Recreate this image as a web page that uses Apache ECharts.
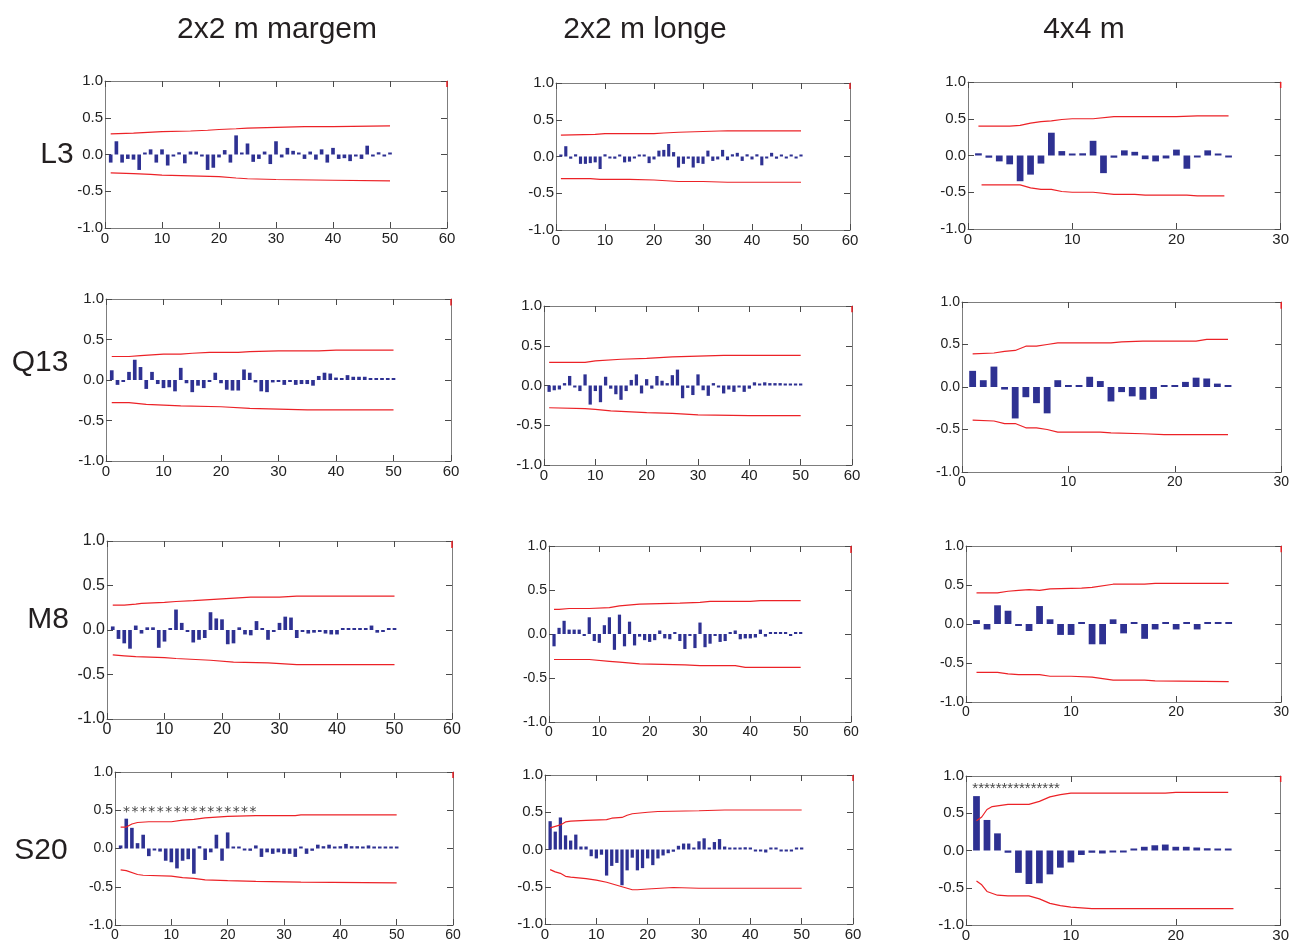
<!DOCTYPE html>
<html>
<head>
<meta charset="UTF-8">
<title>Correlogramas</title>
<script src="https://cdn.jsdelivr.net/npm/echarts@6/dist/echarts.min.js"></script>
<style>
html,body{margin:0;padding:0;background:#fff}
#chart{width:1292px;height:943px}
</style>
</head>
<body>
<div id="chart"></div>
<script>
// titulos
var colTitles = ['2x2 m margem', '2x2 m longe', '4x4 m'];
var rowTitles = ['L3', 'Q13', 'M8', 'S20'];
var starsMargem = '****************';
var stars4x4 = '***************';

// autocorrelacoes (lag 1..N)
var acfL3Margem = [-0.11,0.18,-0.11,-0.06,-0.07,-0.21,0.01,0.07,-0.11,0.07,
  -0.15,-0.01,0.03,-0.12,0.04,0.04,-0.01,-0.21,-0.18,-0.04,
  0.06,-0.11,0.26,0.02,0.15,-0.10,-0.06,0.04,-0.13,0.18,
  -0.04,0.09,0.05,0.02,-0.06,0.04,-0.07,0.07,-0.11,0.09,
  -0.06,-0.05,-0.09,-0.01,-0.06,0.12,-0.01,0.03,-0.01,0.00];
var acfL3Longe = [0.01,0.14,-0.03,0.03,-0.10,-0.10,-0.09,-0.08,-0.17,0.03,
  -0.01,-0.03,0.02,-0.08,-0.07,-0.01,0.02,0.01,-0.09,-0.04,
  0.08,0.09,0.17,0.06,-0.15,-0.10,-0.03,-0.15,-0.09,-0.10,
  0.08,-0.06,-0.04,0.09,-0.05,0.03,0.05,-0.06,0.03,-0.04,
  0.03,-0.12,-0.01,0.05,-0.03,0.01,-0.01,0.01,-0.01,0.00];
var acfL3Q4 = [0.03,-0.03,-0.08,-0.12,-0.35,-0.26,-0.11,0.31,0.06,0.02,
  0.03,0.20,-0.24,-0.03,0.07,0.05,-0.05,-0.08,-0.04,0.08,
  -0.18,-0.02,0.07,0.02,-0.01];
var acfQ13Margem = [0.12,-0.06,-0.02,0.10,0.25,0.16,-0.11,0.10,-0.05,-0.10,
  -0.09,-0.14,0.15,-0.04,-0.15,-0.07,-0.10,-0.02,0.09,-0.04,
  -0.12,-0.13,-0.13,0.13,0.09,-0.03,-0.14,-0.15,-0.03,-0.02,
  -0.06,-0.01,-0.06,-0.05,-0.05,-0.07,0.05,0.09,0.08,0.03,
  0.02,0.06,0.04,0.04,0.04,0.02,0.01,0.00,0.00,0.00];
var acfQ13Longe = [-0.08,-0.06,-0.05,0.03,0.12,-0.01,-0.07,0.14,-0.24,-0.07,
  -0.21,0.11,-0.04,-0.11,-0.18,-0.07,0.07,0.14,-0.10,0.08,
  -0.04,0.12,0.06,0.03,0.13,0.20,-0.16,-0.03,-0.12,0.14,
  -0.06,-0.13,0.03,-0.01,-0.10,-0.05,-0.08,-0.02,-0.08,-0.04,
  0.04,0.01,0.04,0.03,0.03,0.03,0.02,0.02,0.01,0.00];
var acfQ13Q4 = [0.19,0.08,0.24,-0.03,-0.37,-0.12,-0.19,-0.31,0.08,0.00,
  0.00,0.12,0.07,-0.17,-0.06,-0.11,-0.15,-0.14,0.00,0.00,
  0.06,0.11,0.10,0.04,0.00];
var acfM8Margem = [0.04,-0.10,-0.15,-0.21,0.05,-0.04,0.03,0.03,-0.20,-0.13,
  0.01,0.23,0.08,-0.01,-0.14,-0.11,-0.09,0.20,0.13,0.12,
  -0.16,-0.15,0.03,-0.05,-0.06,0.10,0.01,-0.11,-0.02,0.08,
  0.15,0.14,-0.09,-0.01,-0.04,-0.03,-0.02,-0.04,-0.05,-0.05,
  0.02,0.02,0.01,0.01,0.01,0.05,-0.03,-0.02,0.01,0.00];
var acfM8Longe = [-0.14,0.07,0.15,0.05,0.05,0.05,-0.02,0.19,-0.08,-0.10,
  0.10,0.19,-0.18,0.22,-0.14,0.14,-0.13,-0.03,-0.07,-0.09,
  -0.07,0.04,-0.05,-0.06,0.02,-0.08,-0.17,-0.02,-0.16,0.13,
  -0.15,-0.11,-0.01,-0.09,-0.08,0.02,0.04,-0.06,-0.05,-0.05,
  -0.04,0.05,-0.03,0.02,0.02,0.01,0.00,-0.02,0.00,0.00];
var acfM8Q4 = [0.05,-0.07,0.24,0.17,-0.02,-0.09,0.23,0.06,-0.14,-0.14,
  0.00,-0.26,-0.26,0.06,-0.12,0.00,-0.19,-0.07,0.00,-0.07,
  0.00,-0.07,0.00,0.00,0.00];
var acfS20Margem = [0.04,0.39,0.27,0.07,0.18,-0.10,-0.01,-0.04,-0.16,-0.18,
  -0.26,-0.16,-0.14,-0.33,0.03,-0.15,-0.05,0.18,-0.16,0.21,
  0.02,0.01,-0.01,-0.03,0.04,-0.11,-0.05,-0.07,-0.05,-0.07,
  -0.07,-0.11,0.02,-0.07,-0.03,0.05,0.03,0.05,0.01,0.03,
  0.06,0.03,0.03,0.02,0.04,0.01,0.00,0.00,0.00,0.00];
var acfS20Longe = [0.38,0.24,0.43,0.19,0.12,0.20,0.04,0.04,-0.09,-0.12,
  -0.07,-0.35,-0.22,-0.18,-0.48,-0.28,-0.11,-0.28,-0.25,-0.12,
  -0.21,-0.12,-0.08,-0.05,-0.03,0.05,0.08,0.08,0.01,0.11,
  0.15,0.01,0.10,0.14,0.04,0.01,0.01,0.00,0.03,0.01,
  -0.02,-0.02,-0.04,0.01,0.02,-0.02,-0.01,-0.01,0.00,0.00];
var acfS20Q4 = [0.73,0.41,0.23,-0.03,-0.30,-0.45,-0.44,-0.32,-0.23,-0.16,
  -0.06,-0.03,-0.04,-0.01,-0.02,0.00,0.05,0.07,0.08,0.05,
  0.05,0.04,0.03,0.01,0.00];

// limites de confianca [lag, valor]
var upL3Margem = [[1,0.28],[5,0.29],[10,0.31],[15,0.32],[18,0.33],[20,0.34],[23,0.35],[25,0.36],[30,0.37],[35,0.38],[40,0.38],[50,0.39]];
var loL3Margem = [[1,-0.25],[5,-0.26],[8,-0.27],[10,-0.28],[15,-0.29],[20,-0.30],[23,-0.32],[25,-0.33],[30,-0.34],[40,-0.35],[50,-0.36]];
var upL3Longe = [[1,0.29],[8,0.30],[10,0.31],[20,0.31],[22,0.32],[25,0.33],[30,0.34],[35,0.35],[50,0.35]];
var loL3Longe = [[1,-0.30],[7,-0.30],[9,-0.31],[15,-0.31],[20,-0.32],[25,-0.34],[30,-0.34],[35,-0.35],[50,-0.35]];
var upL3Q4 = [[1,0.40],[4,0.40],[5,0.41],[6,0.44],[7,0.46],[8,0.47],[9,0.49],[10,0.50],[12,0.50],[14,0.53],[20,0.53],[22,0.54],[25,0.54]];
var loL3Q4 = [[1.3,-0.40],[5,-0.40],[6,-0.44],[7,-0.46],[8,-0.46],[9,-0.49],[10,-0.50],[12,-0.50],[14,-0.53],[16,-0.53],[17,-0.54],[21,-0.54],[22,-0.55],[24.6,-0.55]];
var upQ13Margem = [[1,0.29],[4,0.29],[6,0.30],[8,0.31],[10,0.32],[13,0.32],[15,0.33],[18,0.34],[23,0.34],[25,0.35],[30,0.36],[37,0.36],[40,0.37],[50,0.37]];
var loQ13Margem = [[1,-0.28],[4,-0.28],[7,-0.30],[10,-0.31],[13,-0.32],[20,-0.33],[25,-0.35],[35,-0.37],[50,-0.37]];
var upQ13Longe = [[1,0.29],[8,0.29],[10,0.31],[15,0.33],[20,0.34],[25,0.36],[30,0.37],[35,0.38],[50,0.38]];
var loQ13Longe = [[1,-0.28],[8,-0.29],[10,-0.30],[13,-0.32],[20,-0.34],[25,-0.35],[30,-0.37],[40,-0.38],[50,-0.38]];
var upQ13Q4 = [[1,0.39],[3,0.40],[4,0.42],[5,0.43],[6,0.48],[7,0.48],[8,0.50],[9,0.52],[14,0.52],[15,0.53],[17,0.54],[22,0.54],[23,0.56],[25,0.56]];
var loQ13Q4 = [[1,-0.39],[3,-0.40],[4,-0.43],[5,-0.43],[6,-0.48],[7,-0.48],[8,-0.50],[9,-0.53],[13,-0.53],[14,-0.54],[17,-0.55],[19,-0.56],[25,-0.56]];
var upM8Margem = [[1,0.28],[3,0.28],[5,0.29],[6,0.30],[10,0.31],[12,0.32],[15,0.33],[20,0.35],[25,0.37],[30,0.37],[33,0.38],[50,0.38]];
var loM8Margem = [[1,-0.28],[3,-0.29],[5,-0.30],[10,-0.31],[12,-0.32],[18,-0.34],[22,-0.36],[28,-0.37],[33,-0.39],[50,-0.39]];
var upM8Longe = [[1,0.28],[2,0.28],[4,0.29],[8,0.29],[12,0.30],[14,0.32],[18,0.34],[26,0.35],[30,0.36],[32,0.37],[40,0.37],[42,0.38],[50,0.38]];
var loM8Longe = [[1,-0.29],[8,-0.29],[12,-0.31],[14,-0.32],[18,-0.34],[27,-0.35],[30,-0.36],[37,-0.36],[39,-0.38],[50,-0.38]];
var upM8Q4 = [[1,0.40],[3,0.40],[4,0.42],[5,0.43],[6,0.44],[7,0.43],[8,0.45],[11,0.46],[12,0.47],[14,0.51],[17,0.51],[18,0.52],[25,0.52]];
var loM8Q4 = [[1,-0.62],[3,-0.62],[4,-0.64],[5,-0.65],[7,-0.65],[8,-0.67],[10,-0.67],[12,-0.68],[14,-0.72],[17,-0.72],[18,-0.73],[25,-0.74]];
var upS20Margem = [[1,0.28],[2,0.28],[3,0.32],[4,0.34],[6,0.35],[10,0.35],[12,0.37],[14,0.38],[16,0.40],[20,0.42],[25,0.43],[32,0.43],[33,0.44],[50,0.44]];
var loS20Margem = [[1,-0.28],[2,-0.29],[4,-0.34],[5,-0.35],[10,-0.36],[12,-0.38],[14,-0.39],[16,-0.41],[20,-0.42],[25,-0.43],[33,-0.44],[50,-0.45]];
var upS20Longe = [[1,0.29],[2,0.31],[3,0.33],[4,0.37],[5,0.38],[8,0.39],[12,0.40],[13,0.42],[15,0.43],[16,0.46],[17,0.48],[20,0.50],[22,0.51],[30,0.52],[35,0.53],[50,0.53]];
var loS20Longe = [[1,-0.27],[2,-0.30],[3,-0.32],[4,-0.36],[5,-0.37],[8,-0.39],[10,-0.41],[12,-0.44],[14,-0.48],[16,-0.52],[17,-0.54],[18,-0.54],[20,-0.53],[25,-0.51],[30,-0.52],[50,-0.52]];
var upS20Q4 = [[1,0.40],[1.5,0.45],[2,0.55],[2.5,0.59],[3,0.60],[4,0.62],[6,0.62],[7,0.66],[8,0.72],[9,0.75],[10,0.77],[19,0.77],[20,0.78],[25,0.78]];
var loS20Q4 = [[1,-0.41],[1.5,-0.46],[2,-0.55],[3,-0.60],[4,-0.61],[6,-0.61],[7,-0.65],[8,-0.71],[9,-0.74],[10,-0.76],[12,-0.78],[25.5,-0.78]];

// posicao dos asteriscos [lag, valor]
var starPosMargem = [1.3, 0.47];
var starPos4x4 = [0.6, 0.83];
var cornerMark = [1.0, 0.92];

var panels = [
  {acf: acfL3Margem, up: upL3Margem, lo: loL3Margem, xmax: 60},
  {acf: acfL3Longe, up: upL3Longe, lo: loL3Longe, xmax: 60},
  {acf: acfL3Q4, up: upL3Q4, lo: loL3Q4, xmax: 30},
  {acf: acfQ13Margem, up: upQ13Margem, lo: loQ13Margem, xmax: 60},
  {acf: acfQ13Longe, up: upQ13Longe, lo: loQ13Longe, xmax: 60},
  {acf: acfQ13Q4, up: upQ13Q4, lo: loQ13Q4, xmax: 30},
  {acf: acfM8Margem, up: upM8Margem, lo: loM8Margem, xmax: 60},
  {acf: acfM8Longe, up: upM8Longe, lo: loM8Longe, xmax: 60},
  {acf: acfM8Q4, up: upM8Q4, lo: loM8Q4, xmax: 30},
  {acf: acfS20Margem, up: upS20Margem, lo: loS20Margem, xmax: 60, stars: starsMargem, starPos: starPosMargem,
    starFont: 14, starFamily: '"DejaVu Sans Mono", monospace'},
  {acf: acfS20Longe, up: upS20Longe, lo: loS20Longe, xmax: 60},
  {acf: acfS20Q4, up: upS20Q4, lo: loS20Q4, xmax: 30, stars: stars4x4, starPos: starPos4x4,
    starFont: 15, starFamily: '"Liberation Sans", Arial, sans-serif'}
];

// layout: [left, top, width, height, fontSize, narrow]
var layout = [
  [105, 81, 342, 147, 15, false],
  [556, 83, 294, 147, 15, false],
  [968, 82, 315, 147, 15, false],
  [106, 299, 345, 162, 15, false],
  [544, 306, 308, 159, 15, false],
  [962, 302, 320, 170, 14, true],
  [107, 541, 345, 178, 16, false],
  [549, 546, 302, 176, 14, true],
  [966, 546, 317, 156, 14, true],
  [115, 772, 338, 153, 14, false],
  [545, 775, 308, 149, 15, false],
  [966, 776, 316, 149, 15, false]
];

var barColor = '#2e3192';
var redColor = '#ec2227';
var frameColor = '#7d7d7d';
var tickColor = '#4a4a4a';

var grids = [], xAxes = [], yAxes = [], series = [];

panels.forEach(function (p, i) {
  var L = layout[i];
  var font = L[5] ? '"Liberation Sans Narrow", "Liberation Sans", Arial, sans-serif' : '"Liberation Sans", Arial, sans-serif';
  grids.push({left: L[0], top: L[1], width: L[2], height: L[3]});

  var axisBase = {
    gridIndex: i,
    axisLine: {show: true, onZero: false, lineStyle: {color: frameColor, width: 1}},
    axisTick: {show: true, inside: true, length: 6, lineStyle: {color: tickColor, width: 1}},
    splitLine: {show: false}
  };
  xAxes.push(Object.assign({}, axisBase, {
    type: 'value', min: 0, max: p.xmax, interval: 10, position: 'bottom',
    axisLabel: {show: true, fontSize: L[4], fontFamily: font, color: '#222', margin: 3}
  }));
  xAxes.push(Object.assign({}, axisBase, {
    type: 'value', min: 0, max: p.xmax, interval: 10, position: 'top',
    axisLabel: {show: false}
  }));
  yAxes.push(Object.assign({}, axisBase, {
    type: 'value', min: -1, max: 1, interval: 0.5, position: 'left',
    axisLabel: {show: true, fontSize: L[4], fontFamily: font, color: '#222', margin: 2,
      formatter: function (v) { return v.toFixed(1); }}
  }));
  yAxes.push(Object.assign({}, axisBase, {
    type: 'value', min: -1, max: 1, interval: 0.5, position: 'right',
    axisLabel: {show: false}
  }));

  var xi = i * 2, yi = i * 2;
  var unit = L[2] / p.xmax;

  series.push({
    type: 'bar', xAxisIndex: xi, yAxisIndex: yi,
    data: p.acf.map(function (v, k) { return [k + 1, v]; }),
    barWidth: Math.max(2, unit * 0.64),
    barMinHeight: 2,
    itemStyle: {color: barColor},
    silent: true, animation: false
  });
  [p.up, p.lo].forEach(function (band) {
    series.push({
      type: 'line', xAxisIndex: xi, yAxisIndex: yi,
      data: band, symbol: 'none', smooth: false,
      lineStyle: {color: redColor, width: 1.2},
      silent: true, animation: false
    });
  });
  series.push({
    type: 'line', xAxisIndex: xi, yAxisIndex: yi,
    data: [[p.xmax, cornerMark[0]], [p.xmax, cornerMark[1]]], symbol: 'none',
    lineStyle: {color: redColor, width: 1.5},
    silent: true, animation: false
  });
  if (p.stars) {
    series.push({
      type: 'scatter', xAxisIndex: xi, yAxisIndex: yi,
      data: [p.starPos], symbolSize: 0,
      label: {show: true, position: [0, 0], align: 'left', verticalAlign: 'middle',
        formatter: p.stars, fontSize: p.starFont, color: '#111',
        fontFamily: p.starFamily},
      silent: true, animation: false
    });
  }
});

var colX = [277, 645, 1084];
var rowLabels = [[57, 155], [40, 363], [48, 620], [41, 851]];
var graphics = [];
colTitles.forEach(function (t, i) {
  graphics.push({type: 'text', x: colX[i], y: 30,
    style: {text: t, fontSize: 30, fontFamily: '"Liberation Sans", Arial, sans-serif',
      fill: '#231f20', textAlign: 'center', textVerticalAlign: 'middle', align: 'center', verticalAlign: 'middle'}});
});
rowTitles.forEach(function (t, i) {
  graphics.push({type: 'text', x: rowLabels[i][0], y: rowLabels[i][1],
    style: {text: t, fontSize: 30, fontFamily: '"Liberation Sans", Arial, sans-serif',
      fill: '#231f20', textAlign: 'center', textVerticalAlign: 'middle', align: 'center', verticalAlign: 'middle'}});
});

var mychart = echarts.init(document.getElementById('chart'));
mychart.setOption({
  backgroundColor: '#fff',
  animation: false,
  grid: grids,
  xAxis: xAxes,
  yAxis: yAxes,
  series: series,
  graphic: graphics
});
</script>
</body>
</html>
